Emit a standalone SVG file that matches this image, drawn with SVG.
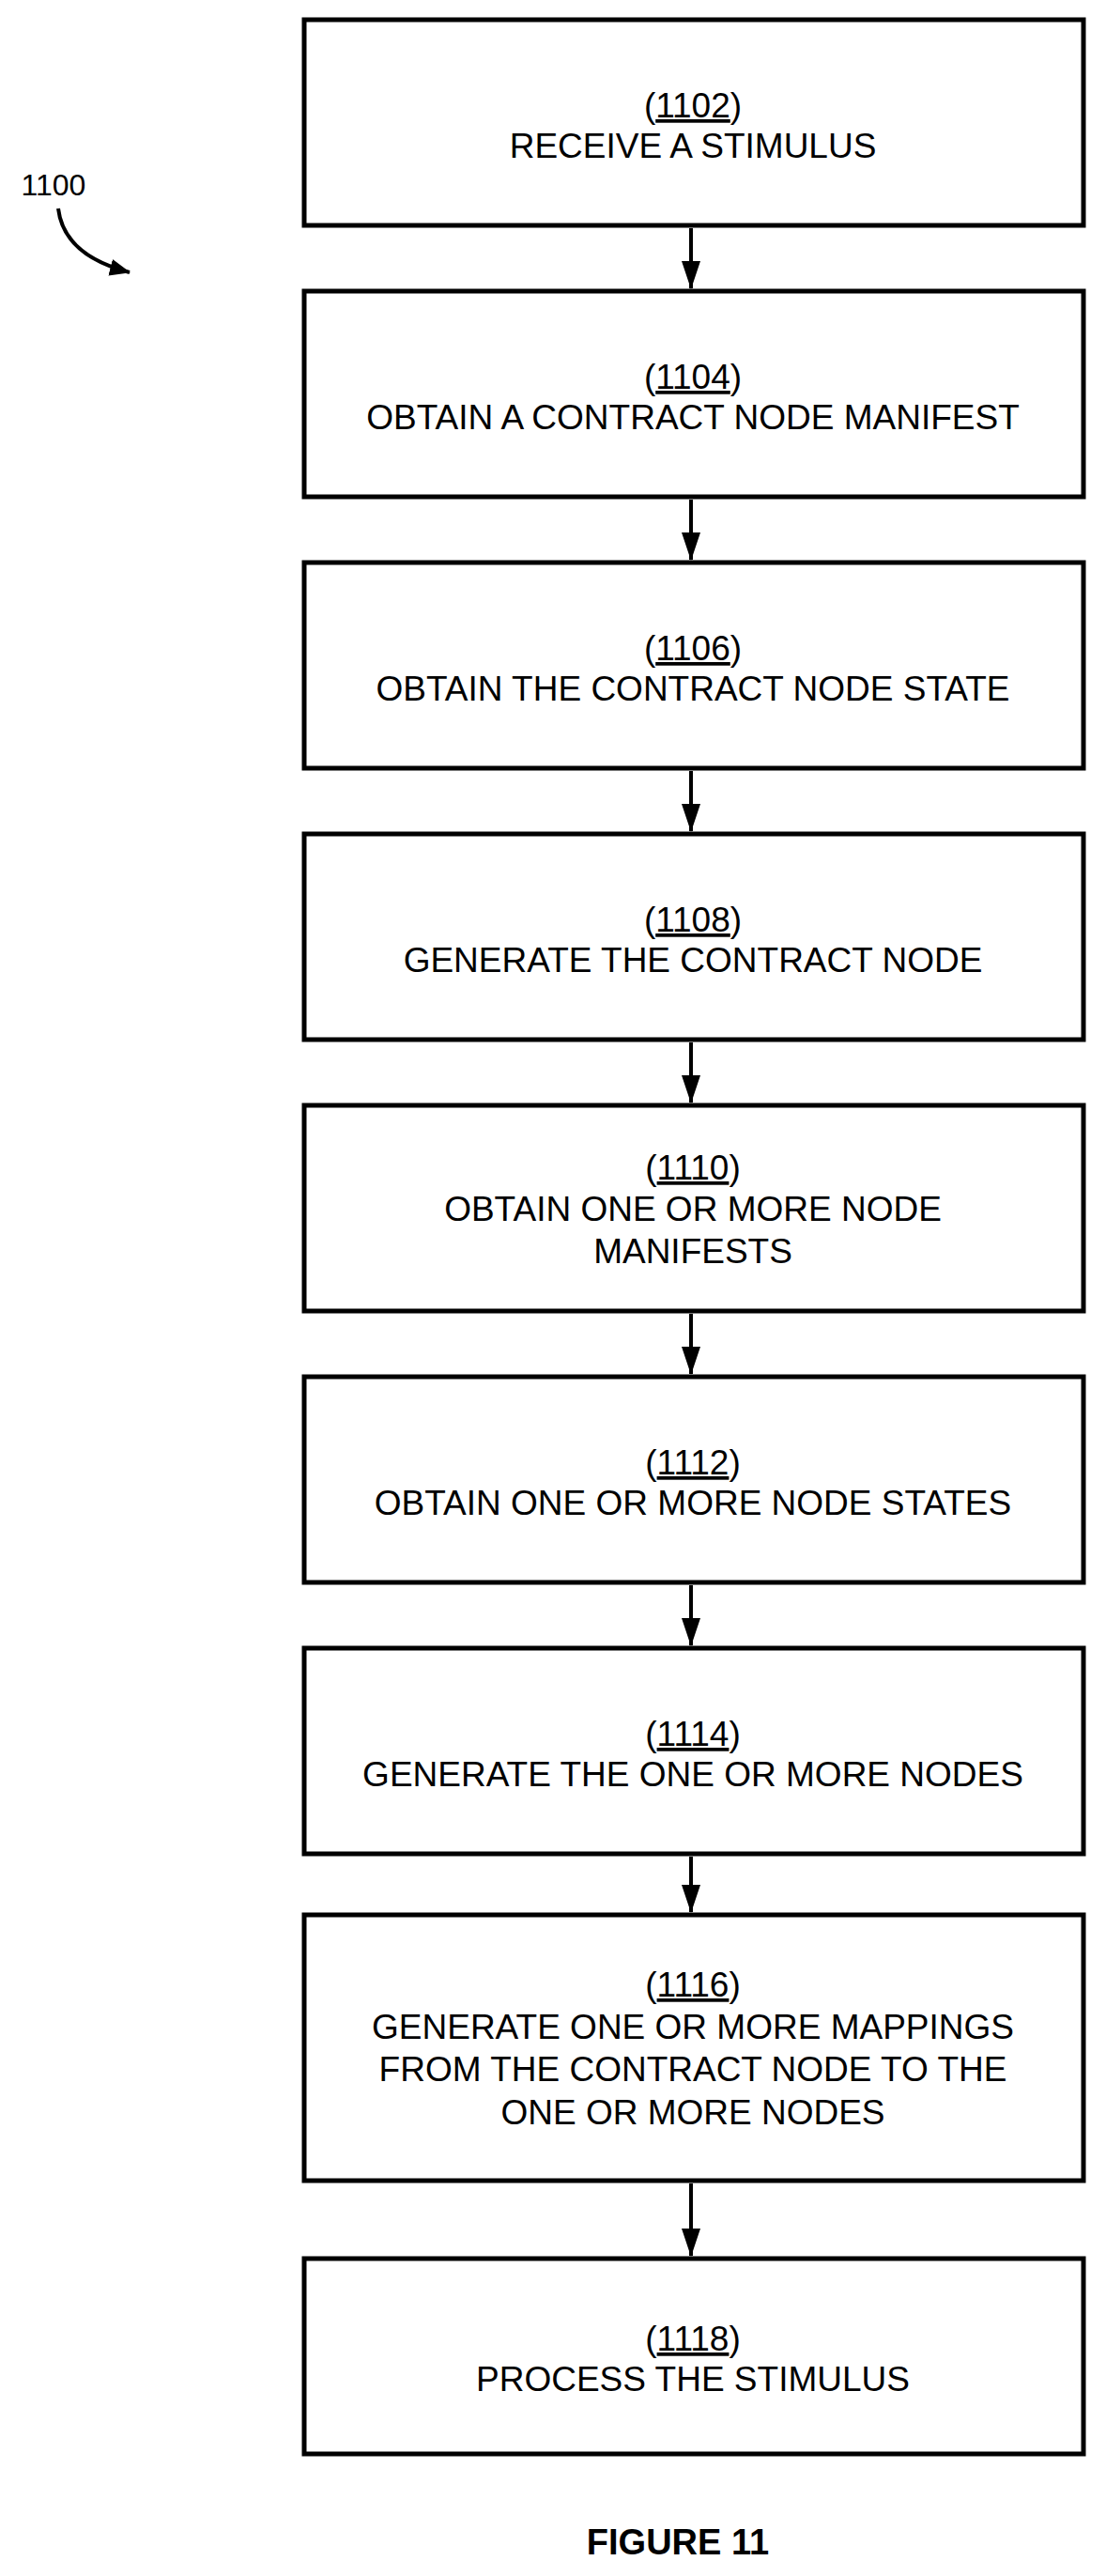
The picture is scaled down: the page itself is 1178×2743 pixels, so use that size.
<svg xmlns="http://www.w3.org/2000/svg" width="1178" height="2743" viewBox="0 0 1178 2743">
<style>
.box{fill:#fff;stroke:#000;stroke-width:5}
text{font-family:"Liberation Sans",Arial,sans-serif;font-size:37px;text-anchor:middle;fill:#000}
.c{stroke:#000;stroke-width:4;fill:none}
</style>
<defs>
<marker id="ah" markerWidth="30" markerHeight="22" refX="29" refY="11" orient="auto" markerUnits="userSpaceOnUse"><path d="M0,1 L30,11 L0,21 Z" fill="#000"/></marker>
<marker id="ah2" markerWidth="22" markerHeight="18" refX="21" refY="9" orient="auto" markerUnits="userSpaceOnUse"><path d="M0,0 L22,9 L0,18 Z" fill="#000"/></marker>
</defs>
<rect width="1178" height="2743" fill="#fff"/>
<g id="n1102"><rect class="box" x="324" y="21" width="830" height="219"/><text x="738" y="125">(<tspan text-decoration="underline">1102</tspan>)</text><text x="738" y="168">RECEIVE A STIMULUS</text></g>
<g id="n1104"><rect class="box" x="324" y="310" width="830" height="219"/><text x="738" y="414">(<tspan text-decoration="underline">1104</tspan>)</text><text x="738" y="457">OBTAIN A CONTRACT NODE MANIFEST</text></g>
<g id="n1106"><rect class="box" x="324" y="599" width="830" height="219"/><text x="738" y="703">(<tspan text-decoration="underline">1106</tspan>)</text><text x="738" y="746">OBTAIN THE CONTRACT NODE STATE</text></g>
<g id="n1108"><rect class="box" x="324" y="888" width="830" height="219"/><text x="738" y="992">(<tspan text-decoration="underline">1108</tspan>)</text><text x="738" y="1035">GENERATE THE CONTRACT NODE</text></g>
<g id="n1110"><rect class="box" x="324" y="1177" width="830" height="219"/><text x="738" y="1256">(<tspan text-decoration="underline">1110</tspan>)</text><text x="738" y="1300">OBTAIN ONE OR MORE NODE</text><text x="738" y="1345">MANIFESTS</text></g>
<g id="n1112"><rect class="box" x="324" y="1466" width="830" height="219"/><text x="738" y="1570">(<tspan text-decoration="underline">1112</tspan>)</text><text x="738" y="1613">OBTAIN ONE OR MORE NODE STATES</text></g>
<g id="n1114"><rect class="box" x="324" y="1755" width="830" height="219"/><text x="738" y="1859">(<tspan text-decoration="underline">1114</tspan>)</text><text x="738" y="1902">GENERATE THE ONE OR MORE NODES</text></g>
<g id="n1116"><rect class="box" x="324" y="2039" width="830" height="283"/><text x="738" y="2126">(<tspan text-decoration="underline">1116</tspan>)</text><text x="738" y="2171">GENERATE ONE OR MORE MAPPINGS</text><text x="738" y="2216">FROM THE CONTRACT NODE TO THE</text><text x="738" y="2262">ONE OR MORE NODES</text></g>
<g id="n1118"><rect class="box" x="324" y="2405" width="830" height="208"/><text x="738" y="2503">(<tspan text-decoration="underline">1118</tspan>)</text><text x="738" y="2546">PROCESS THE STIMULUS</text></g>
<g id="connectors">
<line class="c" x1="736" y1="243" x2="736" y2="307" marker-end="url(#ah)"/>
<line class="c" x1="736" y1="532" x2="736" y2="596" marker-end="url(#ah)"/>
<line class="c" x1="736" y1="821" x2="736" y2="885" marker-end="url(#ah)"/>
<line class="c" x1="736" y1="1110" x2="736" y2="1174" marker-end="url(#ah)"/>
<line class="c" x1="736" y1="1399" x2="736" y2="1463" marker-end="url(#ah)"/>
<line class="c" x1="736" y1="1688" x2="736" y2="1752" marker-end="url(#ah)"/>
<line class="c" x1="736" y1="1977" x2="736" y2="2036" marker-end="url(#ah)"/>
<line class="c" x1="736" y1="2325" x2="736" y2="2402" marker-end="url(#ah)"/>
<path class="c" d="M62,222 Q68,272 138,290" marker-end="url(#ah2)"/>
</g>
<text x="57" y="208" style="font-size:32px">1100</text>
<text x="722" y="2720" style="font-size:38px;font-weight:bold">FIGURE 11</text>
</svg>
